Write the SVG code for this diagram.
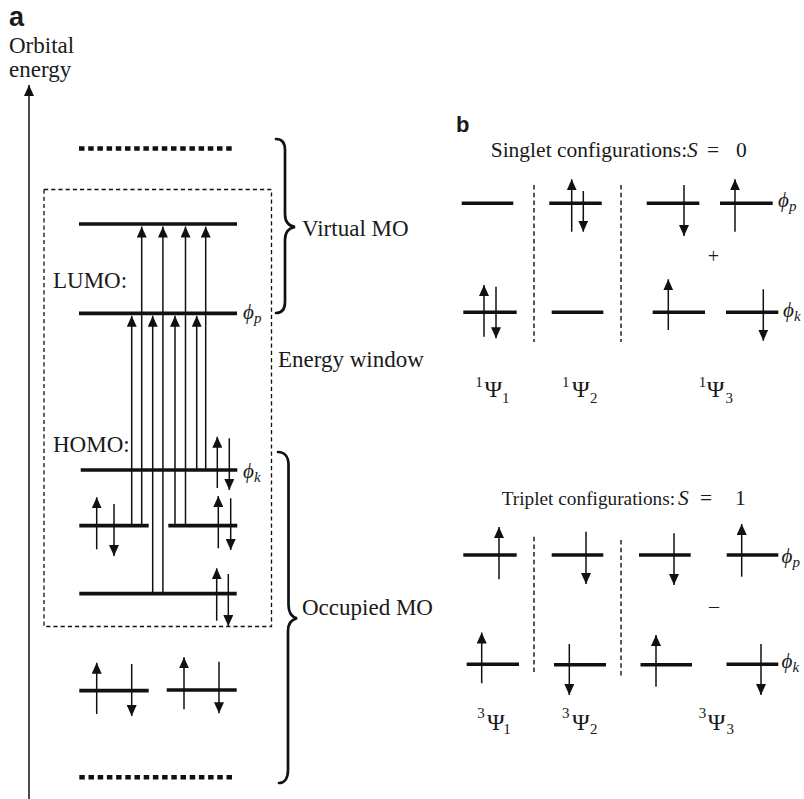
<svg xmlns="http://www.w3.org/2000/svg" width="804" height="799" viewBox="0 0 804 799">
<style>
text{font-family:"Liberation Serif","Times New Roman",serif;fill:#1a1a1a}
.lab{font-family:"Liberation Sans",Arial,sans-serif;font-weight:bold}
.t{font-size:23px}
.ti{font-size:21.5px}
.it{font-style:italic}
.lv{stroke:#111;stroke-width:3.7;fill:none}
.lvr{stroke:#111;stroke-width:3.4;fill:none}
.ar{stroke:#111;stroke-width:1.5;fill:none;marker-end:url(#ah)}
.dot{stroke:#111;stroke-width:4.6;stroke-dasharray:5.5 3.7;fill:none}
.box{stroke:#111;stroke-width:1.3;stroke-dasharray:4.2 3;fill:none}
.sep{stroke:#111;stroke-width:1.4;stroke-dasharray:4.5 3.2;fill:none}
.br{stroke:#111;stroke-width:2.7;fill:none;stroke-linecap:round}
.ps{font-size:24px}
.sc{font-size:15px}
.phi{font-size:21px;font-style:italic}
.sub{font-size:15px;font-style:italic}
</style>
<defs>
<marker id="ah" viewBox="0 0 11 10" refX="11" refY="5" markerWidth="11" markerHeight="10" markerUnits="userSpaceOnUse" orient="auto">
<path d="M0,0 L11,5 L0,10 z" fill="#111"/>
</marker>
</defs>

<g id="panel-a-labels">
<text class="lab" x="9" y="26" font-size="27">a</text>
<text class="t" x="9" y="53" font-family="Liberation Serif, serif">Orbital</text>
<text class="t" x="9" y="77" font-family="Liberation Serif, serif">energy</text>
<text class="t" x="53" y="288">LUMO:</text>
<text class="t" x="53" y="452">HOMO:</text>
<text class="t" x="302" y="236">Virtual MO</text>
<text class="t" x="278" y="367">Energy window</text>
<text class="t" x="302" y="615">Occupied MO</text>
<text class="phi" x="243" y="319">ϕ<tspan class="sub" dy="4">p</tspan></text>
<text class="phi" x="243" y="478">ϕ<tspan class="sub" dy="4">k</tspan></text>
</g>

<g id="axis">
<line class="ar" x1="29" y1="799" x2="29" y2="85"/>
</g>

<g id="energy-window">
<rect class="box" x="44" y="189.5" width="227.5" height="437"/>
</g>

<g id="braces">
<path class="br" d="M276,139 C281,139 285,142 285,150 L285,214 C285,222 289,226 295,227 C289,228 285,232 285,240 L285,302 C285,310 281,313 276,313"/>
<path class="br" d="M278,452 C284,452 288.5,456 288.5,465 L288.5,605 C288.5,613 292,617 297,618.3 C292,619.5 288,623 288,631 L288,770 C288,779 284,783 279,783"/>
</g>

<g id="levels-a">
<line class="dot" x1="79" y1="148.5" x2="233" y2="148.5"/>
<line class="lv" x1="79" y1="224" x2="237" y2="224"/>
<line class="lv" x1="79" y1="313.3" x2="237" y2="313.3"/>
<line class="lv" x1="80.7" y1="470" x2="237.3" y2="470"/>
<line class="lv" x1="79.3" y1="525.7" x2="148.7" y2="525.7"/>
<line class="lv" x1="168.3" y1="525.7" x2="237.3" y2="525.7"/>
<line class="lv" x1="79.3" y1="593.7" x2="236.7" y2="593.7"/>
<line class="lv" x1="79.3" y1="690.7" x2="148.7" y2="690.7"/>
<line class="lv" x1="166.7" y1="690" x2="236.7" y2="690"/>
<line class="dot" x1="79.3" y1="777.3" x2="233" y2="777.3"/>
</g>

<g id="connectors">
<line class="ar" x1="131.7" y1="525.7" x2="131.7" y2="315.8"/>
<line class="ar" x1="141.7" y1="525.7" x2="141.7" y2="226.6"/>
<line class="ar" x1="152.7" y1="593.7" x2="152.7" y2="315.8"/>
<line class="ar" x1="162.9" y1="593.7" x2="162.9" y2="226.6"/>
<line class="ar" x1="175" y1="525.7" x2="175" y2="315.8"/>
<line class="ar" x1="185.5" y1="525.7" x2="185.5" y2="226.6"/>
<line class="ar" x1="196.7" y1="470" x2="196.7" y2="315.8"/>
<line class="ar" x1="205.7" y1="470" x2="205.7" y2="226.6"/>
</g>

<g id="spins-a">
<line class="ar" x1="217.3" y1="488" x2="217.3" y2="436.7"/>
<line class="ar" x1="229.3" y1="438.3" x2="229.3" y2="490"/>
<line class="ar" x1="96.7" y1="549.3" x2="96.7" y2="497.3"/>
<line class="ar" x1="114" y1="504" x2="114" y2="556"/>
<line class="ar" x1="218.3" y1="548.3" x2="218.3" y2="496"/>
<line class="ar" x1="230.7" y1="498.3" x2="230.7" y2="550"/>
<line class="ar" x1="216.7" y1="620.7" x2="216.7" y2="568.3"/>
<line class="ar" x1="228.3" y1="574" x2="228.3" y2="626"/>
<line class="ar" x1="96.7" y1="714" x2="96.7" y2="662.7"/>
<line class="ar" x1="131.7" y1="664" x2="131.7" y2="716"/>
<line class="ar" x1="184" y1="709.3" x2="184" y2="657.3"/>
<line class="ar" x1="219" y1="661.7" x2="219" y2="713.3"/>
</g>

<g id="singlet">
<text class="lab" x="456" y="131.5" font-size="22">b</text>
<text class="ti" x="490.7" y="156.7">Singlet configurations:<tspan class="it" x="687">S</tspan><tspan x="707">=</tspan><tspan x="736">0</tspan></text>
<line class="sep" x1="534" y1="185" x2="534" y2="342"/>
<line class="sep" x1="621" y1="185" x2="621" y2="342"/>
<line class="lvr" x1="461.7" y1="203.3" x2="513.3" y2="203.3"/>
<line class="lvr" x1="549.3" y1="203.3" x2="601.7" y2="203.3"/>
<line class="lvr" x1="646.7" y1="203.3" x2="699.3" y2="203.3"/>
<line class="lvr" x1="720" y1="203.3" x2="772.7" y2="203.3"/>
<line class="lvr" x1="463.3" y1="312.3" x2="516.7" y2="312.3"/>
<line class="lvr" x1="551.7" y1="312.3" x2="603.3" y2="312.3"/>
<line class="lvr" x1="652.7" y1="312.3" x2="705" y2="312.3"/>
<line class="lvr" x1="726" y1="312.3" x2="778.3" y2="312.3"/>
<line class="ar" x1="571.7" y1="231.7" x2="571.7" y2="179.3"/>
<line class="ar" x1="583.3" y1="191" x2="583.3" y2="231.7"/>
<line class="ar" x1="684" y1="185" x2="684" y2="236"/>
<line class="ar" x1="735" y1="231.7" x2="735" y2="179.3"/>
<line class="ar" x1="484" y1="336.7" x2="484" y2="285"/>
<line class="ar" x1="496" y1="286.7" x2="496" y2="338.3"/>
<line class="ar" x1="668.3" y1="330" x2="668.3" y2="279.3"/>
<line class="ar" x1="763.3" y1="289.3" x2="763.3" y2="340.7"/>
<text x="713.3" y="262.5" font-size="20" text-anchor="middle">+</text>
<text class="phi" x="778" y="207">ϕ<tspan class="sub" dy="4">p</tspan></text>
<text class="phi" x="783" y="317">ϕ<tspan class="sub" dy="4">k</tspan></text>
<text class="sc" x="479" y="386.7" text-anchor="middle">1</text>
<text class="ps" x="493.3" y="396.7" text-anchor="middle">Ψ</text>
<text class="sc" x="505.8" y="403.3" text-anchor="middle">1</text>
<text class="sc" x="565.7" y="386.7" text-anchor="middle">1</text>
<text class="ps" x="580.8" y="396.7" text-anchor="middle">Ψ</text>
<text class="sc" x="593.7" y="403.3" text-anchor="middle">2</text>
<text class="sc" x="702.5" y="386.7" text-anchor="middle">1</text>
<text class="ps" x="715.5" y="396.7" text-anchor="middle">Ψ</text>
<text class="sc" x="729.3" y="403.3" text-anchor="middle">3</text>
</g>

<g id="triplet">
<text x="501.7" y="505" font-size="19.3">Triplet configurations:</text>
<text class="ti" x="678" y="505"><tspan class="it">S</tspan><tspan x="700">=</tspan><tspan x="735">1</tspan></text>
<line class="sep" x1="534" y1="536.7" x2="534" y2="675"/>
<line class="sep" x1="621" y1="540" x2="621" y2="677"/>
<line class="lvr" x1="463.3" y1="555" x2="516.7" y2="555"/>
<line class="lvr" x1="551.7" y1="555" x2="603.3" y2="555"/>
<line class="lvr" x1="639" y1="555" x2="690.7" y2="555"/>
<line class="lvr" x1="726.7" y1="555" x2="778.3" y2="555"/>
<line class="lvr" x1="466.7" y1="664.3" x2="519" y2="664.3"/>
<line class="lvr" x1="554" y1="664.8" x2="606" y2="664.8"/>
<line class="lvr" x1="640.5" y1="664.8" x2="692" y2="664.8"/>
<line class="lvr" x1="726.5" y1="664.3" x2="778.3" y2="664.3"/>
<line class="ar" x1="499" y1="579.3" x2="499" y2="527"/>
<line class="ar" x1="586" y1="531.7" x2="586" y2="584"/>
<line class="ar" x1="674" y1="533.3" x2="674" y2="585"/>
<line class="ar" x1="741.7" y1="576.7" x2="741.7" y2="524"/>
<line class="ar" x1="481.7" y1="683.3" x2="481.7" y2="632.5"/>
<line class="ar" x1="569.3" y1="644" x2="569.3" y2="695"/>
<line class="ar" x1="656" y1="686.7" x2="656" y2="635"/>
<line class="ar" x1="761" y1="644" x2="761" y2="695"/>
<text x="714" y="613" font-size="20" text-anchor="middle">–</text>
<text class="phi" x="781.5" y="563">ϕ<tspan class="sub" dy="4">p</tspan></text>
<text class="phi" x="781.5" y="668">ϕ<tspan class="sub" dy="4">k</tspan></text>
<text class="sc" x="481" y="718" text-anchor="middle">3</text>
<text class="ps" x="495.8" y="730" text-anchor="middle">Ψ</text>
<text class="sc" x="507" y="734" text-anchor="middle">1</text>
<text class="sc" x="565.8" y="718" text-anchor="middle">3</text>
<text class="ps" x="580.8" y="730" text-anchor="middle">Ψ</text>
<text class="sc" x="593.7" y="734" text-anchor="middle">2</text>
<text class="sc" x="702.5" y="718" text-anchor="middle">3</text>
<text class="ps" x="716.7" y="730" text-anchor="middle">Ψ</text>
<text class="sc" x="730.3" y="734" text-anchor="middle">3</text>
</g>
</svg>
